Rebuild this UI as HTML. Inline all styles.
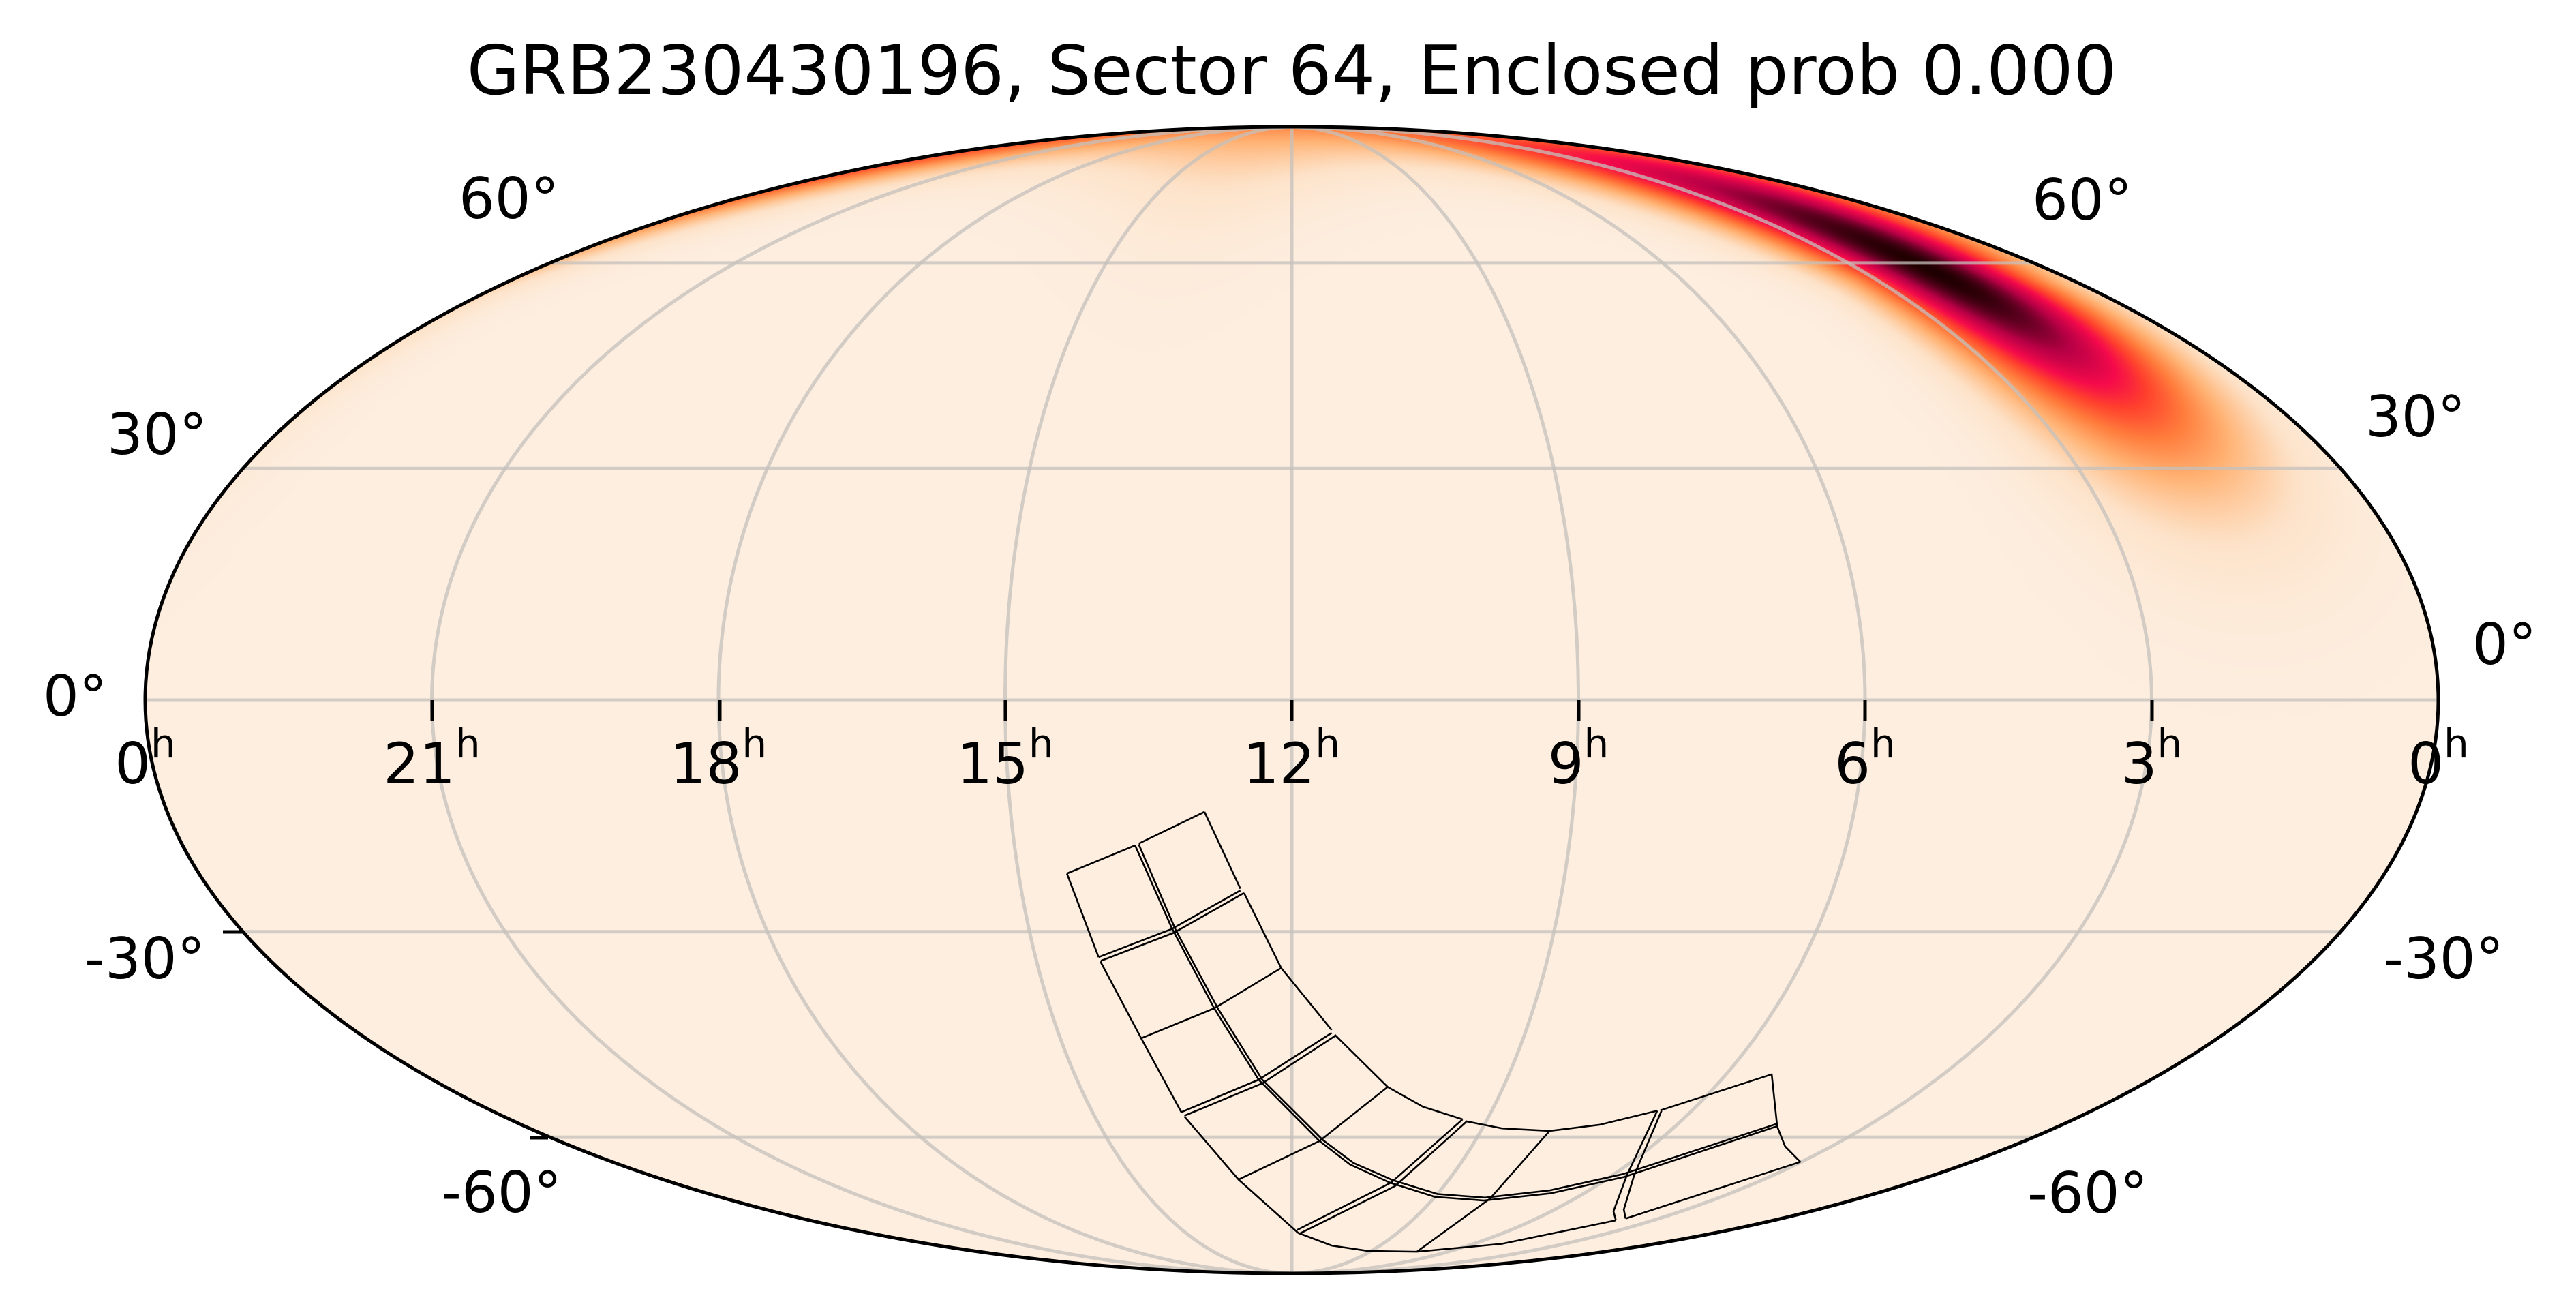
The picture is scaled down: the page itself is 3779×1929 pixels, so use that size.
<!DOCTYPE html>
<html><head><meta charset="utf-8">
<style>
html,body{margin:0;padding:0;background:#fff;}
#wrap{position:relative;width:3779px;height:1929px;overflow:hidden;}
canvas,svg{position:absolute;left:0;top:0;}
text{font-family:"DejaVu Sans","Liberation Sans",sans-serif;fill:#000;}
</style></head><body>
<div id="wrap">
<canvas id="c" width="3779" height="1929"></canvas>
<svg id="s" width="3779" height="1929" viewBox="0 0 3779 1929" xmlns="http://www.w3.org/2000/svg">
<g id="grid" fill="none" stroke="#c4c0bc" stroke-opacity="0.75" stroke-width="5"></g>
<g fill="none" stroke="#000" stroke-width="2.6" stroke-linejoin="round" transform="translate(1400,1100) scale(0.892857,0.528822)">
<g>
<polyline vector-effect="non-scaling-stroke" points="185,343 237,575"/>
<polyline vector-effect="non-scaling-stroke" points="240,587 307,800 373,1005"/>
<polyline vector-effect="non-scaling-stroke" points="378,1017 467,1192 565,1340"/>
<polyline vector-effect="non-scaling-stroke" points="565,1340 620,1375 680,1390 760,1392 900,1370 1087,1305"/>
<polyline vector-effect="non-scaling-stroke" points="1103,1300 1390,1143"/>
<polyline vector-effect="non-scaling-stroke" points="411,172 470,385"/>
<polyline vector-effect="non-scaling-stroke" points="476,397 537,605 620,777"/>
<polyline vector-effect="non-scaling-stroke" points="625,790 712,935 770,990 835,1025"/>
<polyline vector-effect="non-scaling-stroke" points="840,1030 900,1050 978,1057 1060,1040 1155,1001"/>
<polyline vector-effect="non-scaling-stroke" points="1160,1000 1343,900 1352,1045 1365,1100 1390,1143"/>
<polyline vector-effect="non-scaling-stroke" points="185,343 297,265"/>
<polyline vector-effect="non-scaling-stroke" points="303,260 411,172"/>
<polyline vector-effect="non-scaling-stroke" points="297,265 357,493 427,717 500,915 600,1085 650,1150 715,1200 790,1240 870,1250 980,1230 1100,1185 1350,1045"/>
<polyline vector-effect="non-scaling-stroke" points="303,262 363,497 433,717 506,915 606,1083 656,1146 721,1194 794,1232 872,1242 978,1222 1098,1177 1352,1037"/>
<polyline vector-effect="non-scaling-stroke" points="237,575 357,497 470,390"/>
<polyline vector-effect="non-scaling-stroke" points="241,585 361,507 476,397"/>
<polyline vector-effect="non-scaling-stroke" points="307,800 427,717 537,605"/>
<polyline vector-effect="non-scaling-stroke" points="373,1005 500,915 620,785"/>
<polyline vector-effect="non-scaling-stroke" points="378,1015 506,925 626,793"/>
<polyline vector-effect="non-scaling-stroke" points="467,1192 600,1085 712,935"/>
<polyline vector-effect="non-scaling-stroke" points="563,1332 718,1200 835,1025"/>
<polyline vector-effect="non-scaling-stroke" points="567,1342 724,1210 841,1032"/>
<polyline vector-effect="non-scaling-stroke" points="760,1392 880,1245 978,1057"/>
<polyline vector-effect="non-scaling-stroke" points="1087,1305 1083,1280 1105,1180 1155,1001"/>
<polyline vector-effect="non-scaling-stroke" points="1103,1300 1100,1275 1117,1180 1162,1001"/>
</g></g>
<ellipse cx="1895" cy="1027" rx="1682" ry="841" fill="none" stroke="#000" stroke-width="5"/>
<g stroke="#000" stroke-width="5">
<line x1="634" y1="1027" x2="634" y2="1057"/><line x1="1056" y1="1027" x2="1056" y2="1057"/>
<line x1="1475" y1="1027" x2="1475" y2="1057"/><line x1="1895" y1="1027" x2="1895" y2="1057"/>
<line x1="2316" y1="1027" x2="2316" y2="1057"/><line x1="2736" y1="1027" x2="2736" y2="1057"/>
<line x1="3157" y1="1027" x2="3157" y2="1057"/>
<line x1="327" y1="1367" x2="356" y2="1367"/><line x1="778" y1="1669" x2="804" y2="1669"/>
</g>
<text x="1895" y="138" font-size="100" text-anchor="middle">GRB230430196, Sector 64, Enclosed prob 0.000</text>
<g font-size="83">
<text x="673" y="320">60°</text>
<text x="157" y="666">30°</text>
<text x="63" y="1050">0°</text>
<text x="124" y="1435">-30°</text>
<text x="647" y="1778">-60°</text>
<text x="2981" y="322">60°</text>
<text x="3470" y="640">30°</text>
<text x="3627" y="974">0°</text>
<text x="3496" y="1435">-30°</text>
<text x="2974" y="1779">-60°</text>
</g>
<g font-size="83" text-anchor="middle" id="hours"></g>
</svg>
</div>
<script>
(function(){
var cx=1895,cy=1027,a=1682,b=841,D=Math.PI/180;
function theta(dec){var t=dec*D;if(Math.abs(dec)>=90)return Math.sign(dec)*Math.PI/2;var th=t;for(var i=0;i<50;i++){var f=2*th+Math.sin(2*th)-Math.PI*Math.sin(t);th-=f/(2+2*Math.cos(2*th));}return th;}
function proj(ra,dec){var th=theta(dec);return [cx+a*((180-ra)/180)*Math.cos(th),cy-b*Math.sin(th)];}
var ns="http://www.w3.org/2000/svg",g=document.getElementById('grid');
for(var ra=45;ra<360;ra+=45){var p=[];for(var d=-90;d<=90;d+=1){var q=proj(ra,d);p.push(q[0].toFixed(1)+','+q[1].toFixed(1));}
var pl=document.createElementNS(ns,'polyline');pl.setAttribute('points',p.join(' '));g.appendChild(pl);}
[-60,-30,0,30,60].forEach(function(d){var l=proj(359.999,d),r=proj(0.001,d);var ln=document.createElementNS(ns,'line');
ln.setAttribute('x1',l[0]);ln.setAttribute('x2',r[0]);ln.setAttribute('y1',l[1]);ln.setAttribute('y2',r[1]);g.appendChild(ln);});
var hg=document.getElementById('hours');var labs=['0','21','18','15','12','9','6','3','0'];
for(var i=0;i<9;i++){var x=213+i*420.5;var t=document.createElementNS(ns,'text');t.setAttribute('x',x);t.setAttribute('y',1149);
t.appendChild(document.createTextNode(labs[i]));var ts=document.createElementNS(ns,'tspan');ts.setAttribute('dy','-38');ts.setAttribute('font-size','58');ts.textContent='h';t.appendChild(ts);hg.appendChild(t);}
var cv=document.getElementById('c'),ctx=cv.getContext('2d');var W=3779,H=1929;
var img=ctx.createImageData(W,H),dt=img.data;
var stops=[[0,253,238,224],[0.12,253,226,200],[0.28,255,178,115],[0.42,255,125,60],[0.55,255,65,45],[0.66,245,10,75],[0.8,185,0,70],[0.92,90,0,30],[1,30,0,0]];
function cmap(t){if(t<=0)return stops[0];if(t>=1)return stops[stops.length-1];for(var i=1;i<stops.length;i++){if(t<=stops[i][0]){var s0=stops[i-1],s1=stops[i],f=(t-s0[0])/(s1[0]-s0[0]);return [0,s0[1]+f*(s1[1]-s0[1]),s0[2]+f*(s1[2]-s0[2]),s0[3]+f*(s1[3]-s0[3])];}}}
var r0=28*D,nx=-Math.sin(r0),ny=Math.cos(r0),e1x=Math.cos(r0),e1y=Math.sin(r0);
var sp=6,phi0=59;
for(var y=0;y<H;y++){var v=(cy-y+0.5)/b;if(Math.abs(v)>=1)continue;var th=Math.asin(v),ct=Math.cos(th);
var sd=(2*th+Math.sin(2*th))/Math.PI;if(sd>1)sd=1;if(sd<-1)sd=-1;var dec=Math.asin(sd),cd=Math.cos(dec);
for(var x=0;x<W;x++){var u=(x+0.5-cx)/a;var lam=Math.PI*u/ct;if(Math.abs(lam)>Math.PI)continue;
var ra=Math.PI-lam;var px=cd*Math.cos(ra),py=cd*Math.sin(ra),pz=sd;
var pn=px*nx+py*ny;var perp=Math.asin(Math.max(-1,Math.min(1,pn)))/D;
var alo=Math.atan2(pz,px*e1x+py*e1y)/D;var da=alo-phi0;var s=da<0?14:17;
var spp=sp*(1+Math.max(0,-da)/60);
var val=Math.exp(-perp*perp/(2*spp*spp)-da*da/(2*s*s));
var c=cmap(Math.pow(val,0.55));var k=(y*W+x)*4;dt[k]=c[1];dt[k+1]=c[2];dt[k+2]=c[3];dt[k+3]=255;}}
ctx.putImageData(img,0,0);
})();
</script>
</body></html>
